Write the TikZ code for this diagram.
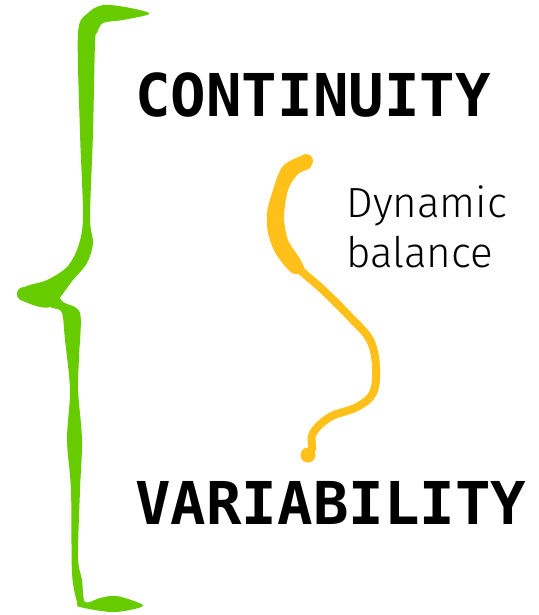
\documentclass[tikz,border=0pt]{standalone}
\usepackage{fontspec}
\newfontfamily\monobold{DejaVu Sans Mono}
\newfontfamily\thinsans{Fira Sans Light}
\definecolor{leaf}{HTML}{66CC00}
\definecolor{amber}{HTML}{FFC119}

\begin{document}
\begin{tikzpicture}[x=0.02cm,y=-0.02cm]
    \tikzset{
      bigword/.style={anchor=base west,inner sep=0pt,font=\monobold\bfseries\fontsize{33.6}{40}\selectfont},
      smallword/.style={anchor=base west,inner sep=0pt,align=left,font=\thinsans\fontsize{24}{30}\selectfont}
    }
    \useasboundingbox (0,0) rectangle (538,615);
    % green brace, upper half
    \fill[leaf] plot[smooth cycle,tension=0.5] coordinates{
      (147,12) (125,7) (103,5) (88,13) (78,33) (80,133) (83,217) (78,247)
      (67,267) (47,280) (27,286) (17,293) (23,301) (50,307) (73,280)
      (87,263) (93,243) (90,217) (93,133) (95,43) (97,33) (103,23) (123,20) (147,15)};
    % green brace, lower half
    \fill[leaf] plot[smooth cycle,tension=0.5] coordinates{
      (20,289) (40,292) (55,292) (63,302) (80,313) (79,357) (78,390) (82,440)
      (80,490) (78,557) (82,580) (85,602) (100,598) (117,596) (143,605)
      (130,610) (110,612) (80,607) (77,602) (72,573) (71,490) (67,440)
      (70,390) (65,340) (62,313) (53,308) (27,301)};
    \fill[leaf] (24,294) circle (7);
    % yellow wave
    \draw[amber,line width=0.16cm,line cap=round,line join=round]
      plot[smooth,tension=0.6] coordinates{
      (305,161) (290,170) (278,193) (275,223) (280,247) (297,267) (323,290)
      (350,317) (370,340) (376,367) (373,393) (357,407) (330,417) (313,433)
      (312,448) (309,455)};
    \fill[amber] plot[smooth cycle,tension=0.5] coordinates{
      (283,166) (272,193) (267,213) (268,233) (276,254) (292,273) (305,272)
      (300,259) (288,240) (284,217) (288,190) (298,174) (311,167) (306,155)};
    \fill[amber] (306,161) circle (7);
    \fill[amber] (308,455) circle (7.5);
    \node[bigword] (cont) at (135,116) {CONTINUITY};
    \node[bigword] (vari) at (135,524) {VARIABILITY};
    \node[smallword] (dyn) at (346,217) {Dynamic};
    \node[smallword] (bal) at (346,267) {balance};
\end{tikzpicture}
\end{document}
